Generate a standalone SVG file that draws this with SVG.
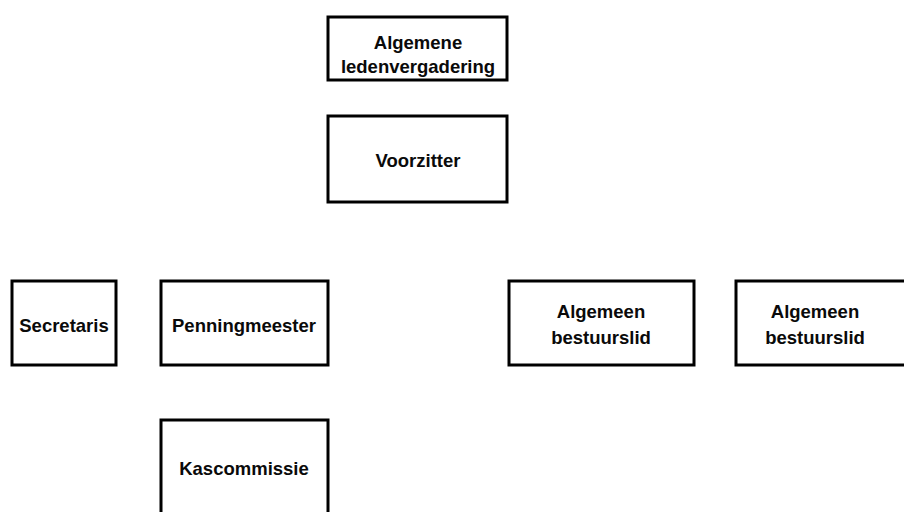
<svg xmlns="http://www.w3.org/2000/svg" width="904" height="512" viewBox="0 0 904 512">
<style>
.box{fill:#fff;stroke:#000;stroke-width:3}
.t{font-family:"Liberation Sans",Arial,sans-serif;font-weight:bold;font-size:18.5px;fill:#0a0a0a;text-anchor:middle}
</style>
<rect width="904" height="512" fill="#fff"/>
<g id="connectors"></g>
<g id="alv"><rect class="box" x="328" y="17" width="179" height="63"/><text class="t" x="418" y="49">Algemene</text><text class="t" x="418" y="73">ledenvergadering</text></g>
<g id="voorzitter"><rect class="box" x="328" y="116" width="179" height="86"/><text class="t" x="418" y="167">Voorzitter</text></g>
<g id="secretaris"><rect class="box" x="12" y="281" width="104" height="84"/><text class="t" x="64" y="332">Secretaris</text></g>
<g id="penningmeester"><rect class="box" x="161" y="281" width="167" height="84"/><text class="t" x="244" y="332">Penningmeester</text></g>
<g id="bestuurslid1"><rect class="box" x="509" y="281" width="185" height="84"/><text class="t" x="601" y="318">Algemeen</text><text class="t" x="601" y="344">bestuurslid</text></g>
<g id="bestuurslid2"><rect class="box" x="736" y="281" width="175" height="84"/><text class="t" x="815" y="318">Algemeen</text><text class="t" x="815" y="344">bestuurslid</text></g>
<g id="kascommissie"><rect class="box" x="161" y="420" width="167" height="100"/><text class="t" x="244" y="475">Kascommissie</text></g>
</svg>
